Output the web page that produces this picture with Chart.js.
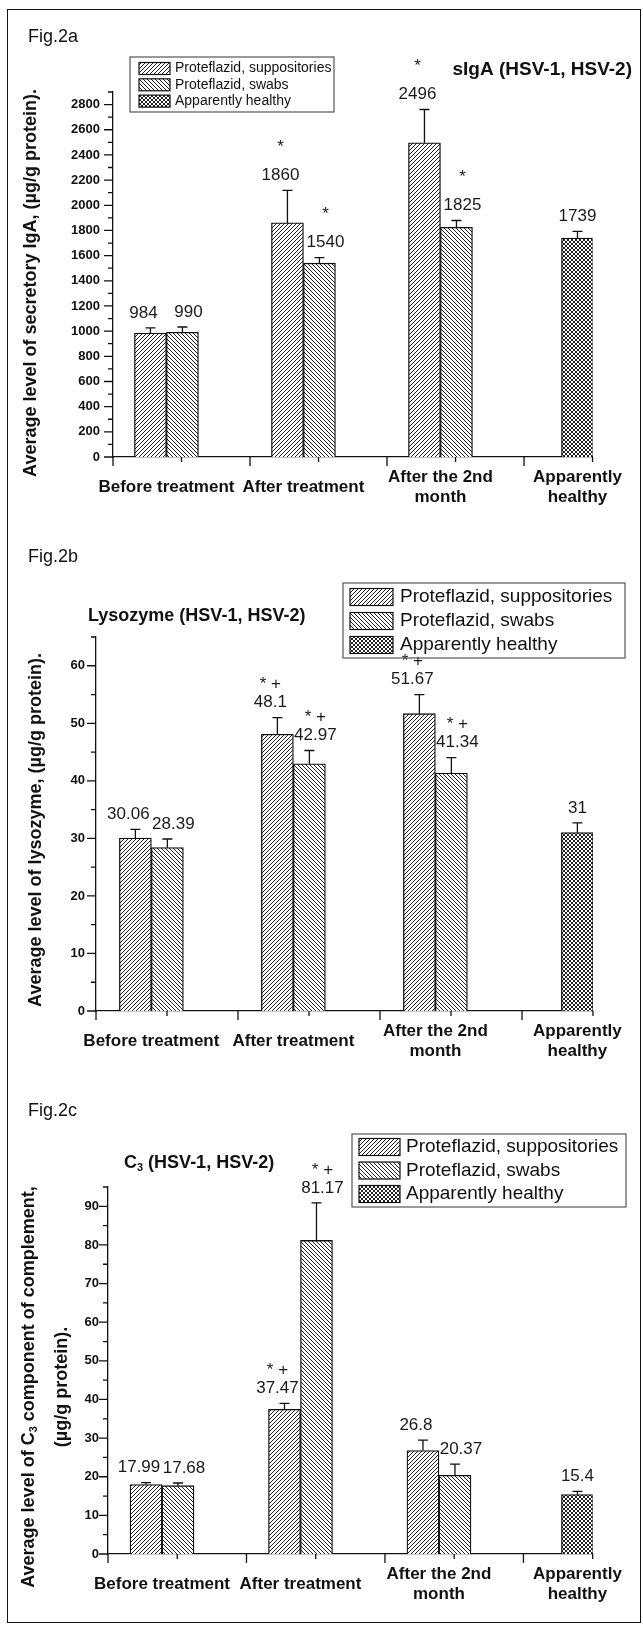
<!DOCTYPE html>
<html>
<head>
<meta charset="utf-8">
<script src="https://cdn.jsdelivr.net/npm/chart.js"></script>
<style>
  html, body { margin: 0; padding: 0; background: #fff; }
  #page { position: relative; width: 643px; height: 1625px; overflow: hidden; }
  #page canvas { position: absolute; left: 0; }
  #frame { position: absolute; left: 7px; top: 9px; width: 634px; height: 1614px;
           border: 1.5px solid #111; box-sizing: border-box; pointer-events: none; }
</style>
</head>
<body>
<div id="page">
  <canvas id="fig-a" width="643" height="535" style="top:0"></canvas>
  <canvas id="fig-b" width="643" height="550" style="top:535px"></canvas>
  <canvas id="fig-c" width="643" height="540" style="top:1085px"></canvas>
  <div id="frame"></div>
</div>
<script>
'use strict';

// ─── Data ─────────────────────────────────────────────────────
const groups      = ['Before treatment', 'After treatment', ['After the 2nd', 'month'], ['Apparently', 'healthy']];
const seriesNames = ['Proteflazid, suppositories', 'Proteflazid, swabs', 'Apparently healthy'];

// Fig.2a  sIgA
const sigaSupp       = [984, 1860, 2496, null];
const sigaSwabs      = [990, 1540, 1825, null];
const sigaHealthy    = [null, null, null, 1739];
const sigaSuppErr    = [42, 258, 265, null];
const sigaSwabsErr   = [43, 44, 54, null];
const sigaHealthyErr = [null, null, null, 54];
const sigaSuppMarks  = ['', '*', '*', ''];
const sigaSwabsMarks = ['', '*', '*', ''];

// Fig.2b  lysozyme
const lysoSupp       = [30.06, 48.1, 51.67, null];
const lysoSwabs      = [28.39, 42.97, 41.34, null];
const lysoHealthy    = [null, null, null, 31];
const lysoSuppErr    = [1.5, 2.9, 3.3, null];
const lysoSwabsErr   = [1.5, 2.3, 2.7, null];
const lysoHealthyErr = [null, null, null, 1.7];
const lysoSuppMarks  = ['', '* +', '* +', ''];
const lysoSwabsMarks = ['', '* +', '* +', ''];

// Fig.2c  C3
const c3Supp       = [17.99, 37.47, 26.8, null];
const c3Swabs      = [17.68, 81.17, 20.37, null];
const c3Healthy    = [null, null, null, 15.4];
const c3SuppErr    = [0.5, 1.5, 2.7, null];
const c3SwabsErr   = [0.7, 9.7, 2.9, null];
const c3HealthyErr = [null, null, null, 0.8];
const c3SuppMarks  = ['', '* +', '', ''];
const c3SwabsMarks = ['', '* +', '', ''];

const noMarks = ['', '', '', ''];

// ─── Helpers ──────────────────────────────────────────────────
const FONT = '"Liberation Sans", Arial, sans-serif';
Chart.defaults.font.family = FONT;
Chart.defaults.color = '#111';

// 4px tile, 1px pixel diagonals: 'up' = ////, 'down' = \\\\, 'cross' = both
function hatch(ctx, kind) {
  const n = 4;
  const tile = document.createElement('canvas');
  tile.width = tile.height = n;
  const g = tile.getContext('2d');
  g.fillStyle = '#fff';
  g.fillRect(0, 0, n, n);
  g.fillStyle = '#222';
  for (let y = 0; y < n; y++) {
    for (let x = 0; x < n; x++) {
      const up   = (x + y) % n === n - 1;
      const down = (x - y + n) % n === 0;
      if ((kind === 'up' && up) || (kind === 'down' && down) || (kind === 'cross' && (up || down))) {
        g.fillRect(x, y, 1, 1);
      }
    }
  }
  return ctx.createPattern(tile, 'repeat');
}

// text with unicode subscript digits drawn as small lowered digits
const SUB = /([\u2080-\u2089])/;
function richText(ctx, text, x, y, size, weight, align) {
  const base  = `${weight} ${size}px ${FONT}`;
  const small = `${weight} ${Math.round(size * 0.6)}px ${FONT}`;
  const pieces = text.split(SUB).filter(p => p !== '').map(p => {
    const sub = p.length === 1 && SUB.test(p);
    const t = sub ? String.fromCharCode(p.charCodeAt(0) - 0x2080 + 48) : p;
    ctx.font = sub ? small : base;
    return { t, sub, w: ctx.measureText(t).width };
  });
  const total = pieces.reduce((s, p) => s + p.w, 0);
  let cx = align === 'center' ? x - total / 2 : align === 'right' ? x - total : x;
  ctx.textAlign = 'left';
  ctx.textBaseline = 'middle';
  pieces.forEach(p => {
    ctx.font = p.sub ? small : base;
    ctx.fillText(p.t, cx, p.sub ? y + size * 0.3 : y);
    cx += p.w;
  });
}

// ─── Plugin : error bars, value labels, ticks, titles, legend ─
const figureDecor = {
  id: 'figureDecor',
  afterDatasetsDraw(chart, args, o) {
    const { ctx, scales: { y } } = chart;
    ctx.save();
    chart.data.datasets.forEach((ds, di) => {
      const meta = chart.getDatasetMeta(di);
      meta.data.forEach((bar, i) => {
        const v = ds.data[i].y;
        if (v == null) return;
        const capY = y.getPixelForValue(v + ds.errors[i]);
        ctx.strokeStyle = '#111';
        ctx.lineWidth = 1.3;
        ctx.beginPath();
        ctx.moveTo(bar.x, bar.y);
        ctx.lineTo(bar.x, capY);
        ctx.moveTo(bar.x - 5, capY);
        ctx.lineTo(bar.x + 5, capY);
        ctx.stroke();

        const lx = bar.x + ds.labelShift;
        const ly = capY - o.labelGap;
        ctx.fillStyle = '#1a1a1a';
        ctx.font = `17px ${FONT}`;
        ctx.textAlign = 'center';
        ctx.textBaseline = 'middle';
        ctx.fillText(String(v), lx, ly);
        if (ds.marks[i]) ctx.fillText(ds.marks[i], lx, ly - o.markGap);
      });
    });
    ctx.restore();
  },
  afterDraw(chart, args, o) {
    const { ctx, chartArea: a, scales: { x, y } } = chart;
    ctx.save();

    // tick marks: major / minor
    ctx.strokeStyle = '#111';
    ctx.lineWidth = 1.3;
    ctx.beginPath();
    y.ticks.forEach(t => {
      const py = y.getPixelForValue(t.value);
      const len = t.label !== '' ? 9 : 5;
      ctx.moveTo(a.left - len, py);
      ctx.lineTo(a.left, py);
    });
    for (let k = 0; k <= 7; k++) {
      const px = x.getPixelForValue(x.min + k * 0.5);
      const len = k % 2 === 0 ? 9 : 5;
      ctx.moveTo(px, a.bottom);
      ctx.lineTo(px, a.bottom + len);
    }
    ctx.stroke();

    ctx.fillStyle = '#111';
    richText(ctx, o.fig.text, o.fig.x, o.fig.y, 18, 'normal', 'left');
    richText(ctx, o.title.text, o.title.x, o.title.y, o.title.size, 'bold', o.title.align);

    o.yTitle.lines.forEach((line, k) => {
      ctx.save();
      ctx.translate(o.yTitle.xs[k], o.yTitle.y);
      ctx.rotate(-Math.PI / 2);
      richText(ctx, line, 0, 0, 18, 'bold', 'center');
      ctx.restore();
    });

    const lg = o.legend;
    ctx.lineWidth = 1.2;
    ctx.strokeStyle = '#555';
    ctx.strokeRect(lg.x, lg.y, lg.w, lg.h);
    chart.data.datasets.forEach((ds, k) => {
      const ry = lg.row0 + k * lg.step;
      ctx.fillStyle = ds.backgroundColor;
      ctx.fillRect(lg.sx, ry - lg.sh / 2, lg.sw, lg.sh);
      ctx.strokeStyle = '#111';
      ctx.strokeRect(lg.sx, ry - lg.sh / 2, lg.sw, lg.sh);
      ctx.fillStyle = '#111';
      richText(ctx, ds.label, lg.tx, ry, lg.size, 'normal', 'left');
    });
    ctx.restore();
  },
};

// ─── Chart builder ────────────────────────────────────────────
function buildChart(id, spec) {
  const ctx    = document.getElementById(id).getContext('2d');
  const fills  = [hatch(ctx, 'up'), hatch(ctx, 'down'), hatch(ctx, 'cross')];
  const shifts = [-7, 6, 0];

  const datasets = spec.series.map((s, k) => ({
    label: seriesNames[k],
    data: s.values.map((v, i) => ({ x: i, y: v })),
    errors: s.errors,
    marks: s.marks,
    labelShift: shifts[k],
    backgroundColor: fills[k],
    borderColor: '#111',
    borderWidth: 1.3,
    barThickness: 32,
    skipNull: true,
  }));

  return new Chart(ctx, {
    type: 'bar',
    data: { datasets },
    options: {
      responsive: false,
      animation: false,
      layout: { padding: spec.padding },
      plugins: {
        legend: { display: false },
        tooltip: { enabled: false },
        figureDecor: spec.decor,
      },
      scales: {
        x: {
          type: 'linear',
          min: -0.39,
          max: 3.11,
          offset: false,
          grid: { display: false, drawTicks: false },
          border: { display: true, color: '#111', width: 1.3 },
          afterBuildTicks: s => { s.ticks = groups.map((_, i) => ({ value: i })); },
          afterFit: s => { s.height = 60; },
          ticks: {
            autoSkip: false,
            maxRotation: 0,
            minRotation: 0,
            crossAlign: 'center',
            padding: 20,
            color: '#111',
            font: { size: 17, weight: 'bold', lineHeight: 1.2 },
            callback: v => groups[v],
          },
        },
        y: {
          min: 0,
          max: spec.yMax,
          grid: { display: false, drawTicks: false },
          border: { display: true, color: '#111', width: 1.3 },
          afterFit: s => { s.width = spec.left; },
          ticks: {
            stepSize: spec.minorStep,
            autoSkip: false,
            padding: spec.tickPad,
            color: '#111',
            font: { size: 13, weight: 'bold' },
            callback: v => (v % spec.labelStep === 0 ? v : ''),
          },
        },
      },
    },
    plugins: [figureDecor],
  });
}

// ─── Fig.2a ───────────────────────────────────────────────────
buildChart('fig-a', {
  series: [
    { values: sigaSupp,    errors: sigaSuppErr,    marks: sigaSuppMarks },
    { values: sigaSwabs,   errors: sigaSwabsErr,   marks: sigaSwabsMarks },
    { values: sigaHealthy, errors: sigaHealthyErr, marks: noMarks },
  ],
  yMax: 2900, minorStep: 100, labelStep: 200, tickPad: 13,
  left: 113,
  padding: { top: 92, right: 36, bottom: 18, left: 0 },
  decor: {
    labelGap: 15, markGap: 28,
    fig: { text: 'Fig.2a', x: 28, y: 37 },
    title: { text: 'sIgA (HSV-1, HSV-2)', x: 632, y: 70, align: 'right', size: 19 },
    yTitle: { lines: ['Average level of secretory IgA, (µg/g protein).'], xs: [31], y: 283 },
    legend: { x: 130, y: 57, w: 204, h: 55, row0: 68.5, step: 16.3, sx: 139, sw: 31, sh: 12, tx: 175, size: 14 },
  },
});

// ─── Fig.2b ───────────────────────────────────────────────────
buildChart('fig-b', {
  series: [
    { values: lysoSupp,    errors: lysoSuppErr,    marks: lysoSuppMarks },
    { values: lysoSwabs,   errors: lysoSwabsErr,   marks: lysoSwabsMarks },
    { values: lysoHealthy, errors: lysoHealthyErr, marks: noMarks },
  ],
  yMax: 65, minorStep: 5, labelStep: 10, tickPad: 11,
  left: 96,
  padding: { top: 102, right: 39, bottom: 14, left: 0 },
  decor: {
    labelGap: 15, markGap: 18,
    fig: { text: 'Fig.2b', x: 28, y: 22 },
    title: { text: 'Lysozyme (HSV-1, HSV-2)', x: 88, y: 81, align: 'left', size: 18 },
    yTitle: { lines: ['Average level of lysozyme, (µg/g protein).'], xs: [36], y: 295 },
    legend: { x: 343, y: 48, w: 282, h: 75, row0: 62, step: 24, sx: 350, sw: 43, sh: 17, tx: 400, size: 19 },
  },
});

// ─── Fig.2c ───────────────────────────────────────────────────
buildChart('fig-c', {
  series: [
    { values: c3Supp,    errors: c3SuppErr,    marks: c3SuppMarks },
    { values: c3Swabs,   errors: c3SwabsErr,   marks: c3SwabsMarks },
    { values: c3Healthy, errors: c3HealthyErr, marks: noMarks },
  ],
  yMax: 95, minorStep: 5, labelStep: 10, tickPad: 9,
  left: 108,
  padding: { top: 102, right: 37, bottom: 11, left: 0 },
  decor: {
    labelGap: 15, markGap: 18,
    fig: { text: 'Fig.2c', x: 28, y: 26 },
    title: { text: 'C₃ (HSV-1, HSV-2)', x: 124, y: 78, align: 'left', size: 18 },
    yTitle: { lines: ['Average level of C₃ component of complement,', '(µg/g protein).'], xs: [29, 62], y: 302 },
    legend: { x: 352, y: 49, w: 274, h: 73, row0: 62, step: 23.5, sx: 359, sw: 41, sh: 17, tx: 406, size: 19 },
  },
});
</script>
</body>
</html>
